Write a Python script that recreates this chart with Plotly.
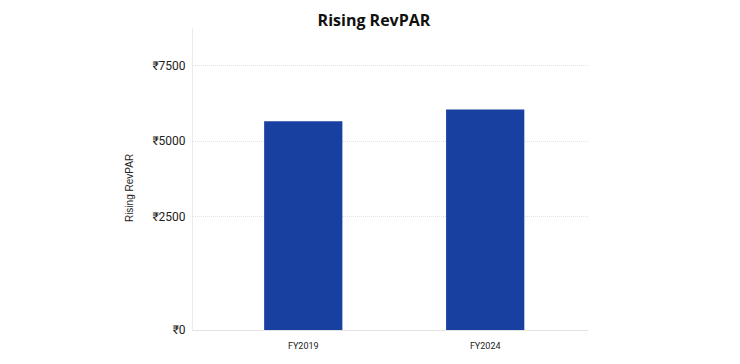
import plotly.graph_objects as go

categories = ["FY2019", "FY2024"]
revpar = [5660, 6050]
tick_values = [2500, 5000, 7500]
tick_labels = ["₹2500", "₹5000", "₹7500"]
axis_floor = -1250
axis_top = 8750

fig = go.Figure()
fig.add_trace(go.Bar(
    x=categories,
    y=[v - axis_floor for v in revpar],
    base=axis_floor,
    width=0.43,
    marker=dict(color="#1840a0", line=dict(width=0)),
    hovertemplate="%{x}: ₹%{customdata}<extra></extra>",
    customdata=revpar,
))

fig.update_layout(
    width=732, height=356,
    margin=dict(l=185, r=152, t=20, b=34),
    paper_bgcolor="white", plot_bgcolor="white",
    showlegend=False,
    title=dict(text="<b>Rising RevPAR</b>", x=0.5, xref="container", xanchor="center",
               y=0.966, yref="container", yanchor="middle",
               font=dict(family="Open Sans", size=16, color="#111")),
    font=dict(family="Roboto", color="#222"),
)

fig.add_annotation(
    text="Rising RevPAR", textangle=-90,
    xref="paper", yref="paper", x=-0.162, y=0.47,
    xanchor="center", yanchor="middle", showarrow=False,
    font=dict(family="Liberation Sans", size=10, color="#222"),
)

fig.update_xaxes(
    range=[-0.606, 1.565],
    showgrid=False, showline=True, linecolor="#e3e3e3", linewidth=1,
    ticks="", ticklabelstandoff=7,
    tickfont=dict(family="Roboto", size=9, color="#222"),
    zeroline=False,
)
fig.update_yaxes(
    range=[axis_floor, axis_top],
    tickvals=[axis_floor] + tick_values,
    ticktext=["₹0"] + tick_labels,
    showgrid=True, gridcolor="#e2e2e2", griddash="1px,1px", gridwidth=1,
    showline=True, linecolor="#ebebeb", linewidth=1,
    zeroline=False, ticks="", ticklabelstandoff=4,
    tickfont=dict(family="Roboto", size=12, color="#222"),
)

fig.write_html("out.html")
